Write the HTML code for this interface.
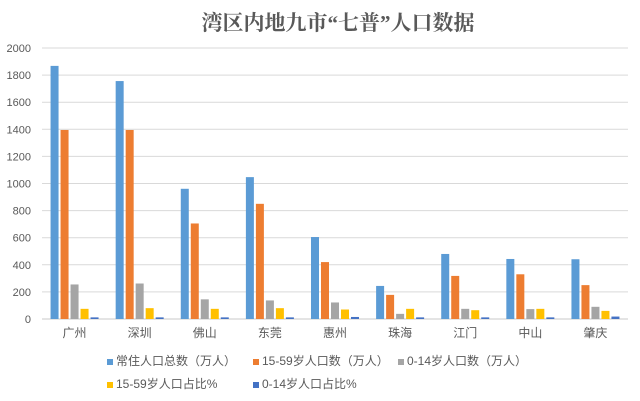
<!DOCTYPE html>
<html><head><meta charset="utf-8"><style>
body{margin:0;background:#fff;}
svg{display:block;font-family:"Liberation Sans","Noto Sans CJK SC",sans-serif;}
</style></head><body>
<svg id="c" width="640" height="401" viewBox="0 0 640 401">
<rect width="640" height="401" fill="#fff"/>
<text x="338" y="30" text-anchor="middle" font-family="'Liberation Serif','Noto Serif CJK SC',serif" font-weight="bold" font-size="21" fill="#595959">湾区内地九市“七普”人口数据</text>
<g id="grid"></g><g id="bars"></g><g id="labels"></g><g id="legend"></g>
</svg>
<script>
const categories=["广州","深圳","佛山","东莞","惠州","珠海","江门","中山","肇庆"];
const seriesNames=["常住人口总数（万人）","15-59岁人口数（万人）","0-14岁人口数（万人）","15-59岁人口占比%","0-14岁人口占比%"];
const total=[1868,1756,961,1047,605,244,480,443,441];
const age1559=[1395,1395,705,850,420,178,318,330,250];
const age014=[255,262,145,137,122,38,75,73,90];
const pct1559=[75,80,75,80,70,75,65,75,60];
const pct014=[12,12,12,12,15,12,12,12,18];
const yTicks=[0,200,400,600,800,1000,1200,1400,1600,1800,2000];
const colors=["#5b9bd5","#ed7d31","#a5a5a5","#ffc000","#4472c4"];
const series=[total,age1559,age014,pct1559,pct014];
const NS="http://www.w3.org/2000/svg";
const x0=42,x1=628,y0=319,yTop=48,yMax=2000;
const y=v=>y0-(v/yMax)*(y0-yTop);
const bandW=(x1-x0)/categories.length;
const grid=document.getElementById('grid'),bars=document.getElementById('bars'),labels=document.getElementById('labels'),legend=document.getElementById('legend');
function mk(t,a,p){const e=document.createElementNS(NS,t);for(const k in a)e.setAttribute(k,a[k]);p.appendChild(e);return e;}
yTicks.forEach(t=>{
  const l=mk('line',{x1:x0,x2:x1,y1:y(t),y2:y(t),stroke:t===0?'#c8c8c8':'#d9d9d9','stroke-width':1},grid);
  
  
  const tx=mk('text',{x:31,y:y(t)+4,'text-anchor':'end','font-size':11,fill:'#595959'},labels);
  tx.textContent=t;
  
  
});
const bw=8,pitch=10;
categories.forEach((c,i)=>{
  const cx=x0+bandW*(i+0.5);
  series.forEach((s,j)=>{
    const bx=cx-25+j*pitch+1;
    const r=mk('rect',{x:bx,y:y(s[i]),width:bw,height:y0-y(s[i]),fill:colors[j]},bars);
    
    
  });
  const t=mk('text',{x:cx,y:337,'text-anchor':'middle','font-size':12,fill:'#595959'},labels);
  t.textContent=c;
  
  
});
const lpos=[[107,365],[253,365],[398,365],[107,388],[253,388]];
seriesNames.forEach((n,j)=>{
  const g=mk('g',{},legend);
  
  
  mk('rect',{x:lpos[j][0],y:lpos[j][1]-6,width:6,height:6,fill:colors[j]},g);
  const t=mk('text',{x:lpos[j][0]+9,y:lpos[j][1],'font-size':12,fill:'#595959'},g);
  t.textContent=n;
});
</script>
</body></html>
